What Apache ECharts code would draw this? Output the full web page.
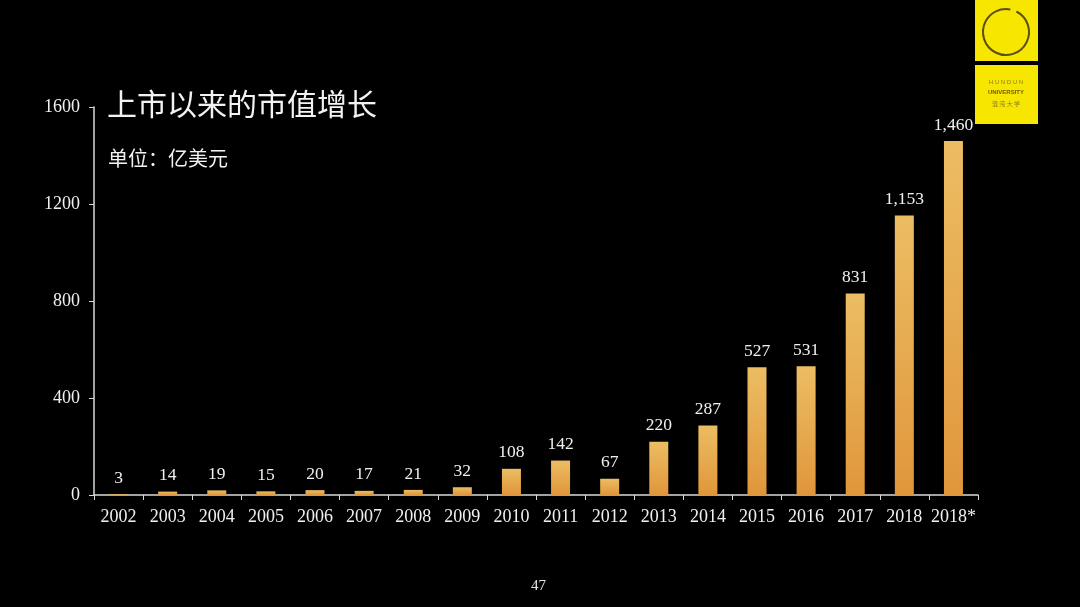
<!DOCTYPE html>
<html>
<head>
<meta charset="utf-8">
<script src="https://cdn.jsdelivr.net/npm/echarts@6/dist/echarts.min.js"></script>
<style>
html,body{margin:0;padding:0;background:#000;}
#chart{width:1080px;height:607px;}
</style>
</head>
<body>
<div id="chart"></div>
<script>
const categories = ['2002','2003','2004','2005','2006','2007','2008','2009','2010','2011','2012','2013','2014','2015','2016','2017','2018','2018*'];
const marketCap = [3,14,19,15,20,17,21,32,108,142,67,220,287,527,531,831,1153,1460];
const yTicks = [0,400,800,1200,1600];

const chart = echarts.init(document.getElementById('chart'));
const serif = '"Liberation Serif", "Times New Roman", serif';
const cjk = '"Noto Sans CJK SC", sans-serif';

chart.setOption({
  backgroundColor: '#000000',
  animation: false,
  grid: { left: 94, right: 102, top: 107, bottom: 112, containLabel: false },
  xAxis: {
    type: 'category',
    data: categories,
    axisLine: { lineStyle: { color: '#d9d9d9', width: 1.5 } },
    axisTick: { show: true, length: 5, lineStyle: { color: '#d9d9d9' } },
    axisLabel: { interval: 0, color: '#f0f0f0', fontFamily: serif, fontSize: 18, margin: 13 }
  },
  yAxis: {
    type: 'value',
    min: yTicks[0],
    max: yTicks[yTicks.length - 1],
    interval: 400,
    splitLine: { show: false },
    axisLine: { show: true, lineStyle: { color: '#d9d9d9', width: 1.5 } },
    axisTick: { show: true, length: 5, lineStyle: { color: '#d9d9d9' } },
    axisLabel: { color: '#f0f0f0', fontFamily: serif, fontSize: 18, margin: 14, formatter: v => String(v) }
  },
  series: [{
    type: 'bar',
    data: marketCap,
    barWidth: 19,
    itemStyle: {
      color: new echarts.graphic.LinearGradient(0, 0, 0, 1, [
        { offset: 0, color: '#ecbd63' },
        { offset: 1, color: '#e0963b' }
      ])
    },
    label: {
      show: true,
      position: 'top',
      distance: 7,
      color: '#f0f0f0',
      fontFamily: serif,
      fontSize: 17.5,
      formatter: p => p.value.toLocaleString('en-US')
    }
  }],
  graphic: [
    { type: 'text', left: 107, top: 89, style: { text: '上市以来的市值增长', fill: '#f2f2f2', font: '30px ' + cjk } },
    { type: 'text', left: 108, top: 148, style: { text: '单位：亿美元', fill: '#f2f2f2', font: '20px ' + cjk } },
    { type: 'text', left: 531, top: 579, style: { text: '47', fill: '#e6e6e6', font: '15px ' + serif } },
    { type: 'rect', shape: { x: 975, y: 0, width: 63, height: 61 }, style: { fill: '#f7e600' } },
    { type: 'rect', shape: { x: 975, y: 65, width: 63, height: 59 }, style: { fill: '#f7e600' } },
    { type: 'arc', shape: { cx: 1006, cy: 32, r: 23, startAngle: -1.1, endAngle: 4.9 }, style: { stroke: '#5e4e10', lineWidth: 2, fill: null } },
    { type: 'text', x: 1006, y: 82, style: { text: 'H U N D U N', fill: '#8a7a20', font: '6px sans-serif', align: 'center', verticalAlign: 'middle' } },
    { type: 'text', x: 1006, y: 92, style: { text: 'UNIVERSITY', fill: '#6e5c12', font: 'bold 6px sans-serif', align: 'center', verticalAlign: 'middle' } },
    { type: 'text', x: 1006, y: 104, style: { text: '混 沌 大 学', fill: '#8a7a20', font: '6px ' + cjk, align: 'center', verticalAlign: 'middle' } }
  ]
});
</script>
</body>
</html>
